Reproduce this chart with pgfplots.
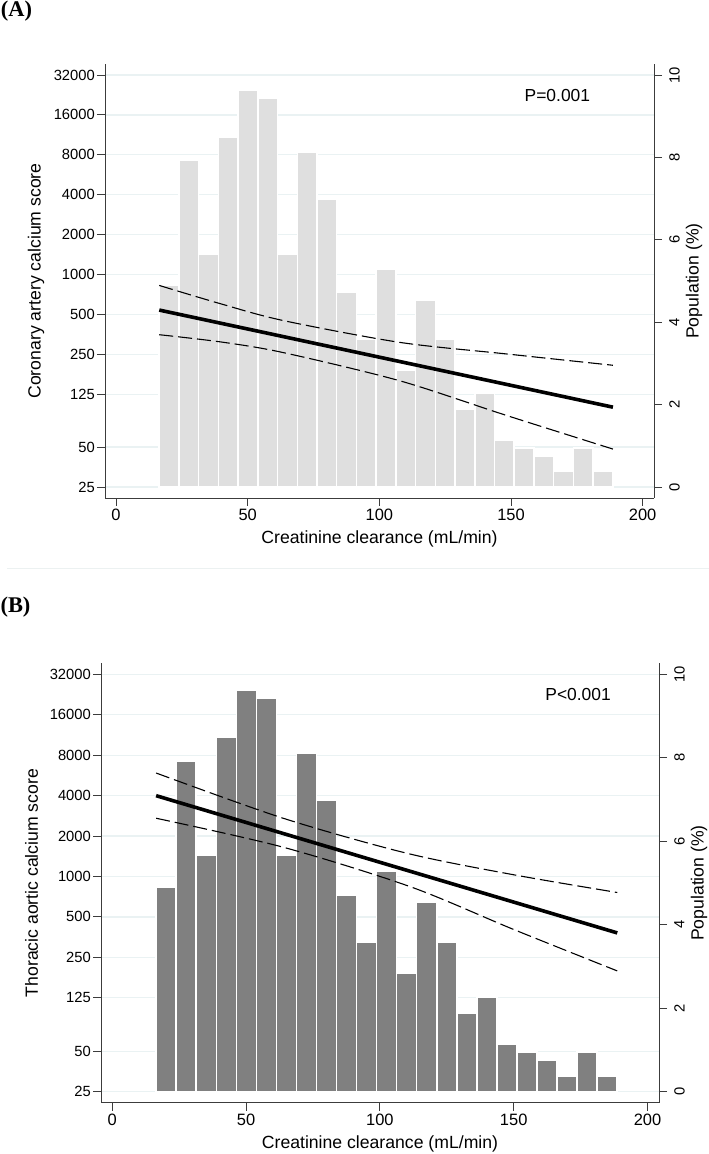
\documentclass[border=0pt]{standalone}
\usepackage{pgfplots}
\pgfplotsset{compat=1.18}
\usepackage{pgfplotstable}
\usepackage{fontspec}
\setmainfont{Liberation Sans}
\newfontfamily\timesfont{Liberation Serif}
\definecolor{gridc}{RGB}{234,242,243}
\definecolor{barA}{RGB}{223,223,223}
\definecolor{barB}{RGB}{128,128,128}
\definecolor{axc}{RGB}{60,60,60}
\definecolor{sepc}{RGB}{236,241,241}

% histogram: left bin edge, population (%)
\pgfplotstableread{
edge pct
16.40 4.906
23.89 7.925
31.38 5.660
38.87 8.491
46.36 9.623
53.85 9.434
61.34 5.660
68.83 8.113
76.32 6.981
83.81 4.717
91.30 3.585
98.79 5.283
106.28 2.830
113.77 4.528
121.26 3.585
128.75 1.887
136.24 2.264
143.73 1.132
151.22 0.943
158.71 0.755
166.20 0.377
173.69 0.943
181.18 0.377
188.67 0.377
}\histtab

\pgfplotsset{
  mycommon/.style={scale only axis, xmin=-4.2, xmax=204.3,
    tick align=outside, major tick length=8bp,
    tick style={axc, line width=0.9bp},
    axis line style={axc, line width=0.9bp},
    xticklabel style={font=\fontsize{16.5}{17}\selectfont},
    yticklabel style={font=\fontsize{14.8}{15}\selectfont, inner sep=2bp},
    label style={font=\fontsize{17.7}{18}\selectfont},
  },
  myleft/.style={mycommon,
    axis x line*=bottom, axis y line*=left,
    xtick={0,50,100,150,200}, xticklabels={0,50,100,150,200},
    ytick={25,50,125,250,500,1000,2000,4000,8000,16000,32000},
    yticklabels={25,50,125,250,500,1000,2000,4000,8000,16000,32000},
    yminorticks=false, xminorticks=false,
    ymajorgrids, grid style={draw=gridc, line width=1.2bp},
    xlabel={Creatinine clearance (mL/min)},
  },
  myright/.style={mycommon,
    axis y line*=right, axis x line=none,
    ytick={0,2,4,6,8,10}, yticklabels={0,2,4,6,8,10},
    yticklabel style={rotate=90, anchor=north},
    yticklabel shift=5bp,
    ylabel={Population (\%)},
  },
  myfit/.style={black, line width=3.6bp},
  myci/.style={black, line width=1.1bp, dash pattern=on 14bp off 5bp, smooth},
}

\begin{document}
\begin{tikzpicture}
\path[use as bounding box] (0,0) rectangle (709bp,-1154bp);

% ---------------- Panel A ----------------
\node[font=\timesfont\bfseries\fontsize{22.5}{23}\selectfont] at (16.5bp,-11bp) {(A)};
\begin{axis}[myleft, ymode=log, ymin=20.65, ymax=38740,
  width=549bp, height=434bp, at={(105bp,-498bp)}, anchor=south west,
  ylabel={Coronary artery calcium score},
  ylabel style={at={(axis description cs:-0.1257,0.5)}, anchor=center},
  xlabel style={at={(axis description cs:0.5,-0.0945)}, anchor=center}]
\end{axis}
\begin{axis}[myright, ymin=-0.267, ymax=10.267,
  width=549bp, height=434bp, at={(105bp,-498bp)}, anchor=south west,
  ylabel style={at={(axis description cs:1.073,0.5)}, anchor=center}]
\addplot[ybar interval, fill=barA, draw=white, line width=1.5bp] table[x=edge, y=pct] {\histtab};
\end{axis}
\begin{axis}[scale only axis, xmin=-4.2, xmax=204.3, ymode=log, ymin=20.65, ymax=38740, hide axis,
  width=549bp, height=434bp, at={(105bp,-498bp)}, anchor=south west]
\addplot[myfit] coordinates {(16.4,540) (188.7,100)};
\addplot[myci] coordinates {(16.4,828) (40,600) (63.5,450) (107.8,308) (148.3,252) (188.7,207)};
\addplot[myci] coordinates {(16.4,352) (40,310) (63.5,258) (107.8,158) (148.3,86.6) (188.7,48.3)};
\node[font=\fontsize{17.5}{18}\selectfont] at (axis description cs:0.824,0.927) {P=0.001};
\end{axis}

\draw[sepc, line width=1bp] (7bp,-568bp) -- (709bp,-568bp);

% ---------------- Panel B ----------------
\node[font=\timesfont\bfseries\fontsize{22.5}{23}\selectfont] at (15.5bp,-607bp) {(B)};
\begin{axis}[myleft, ymode=log, ymin=20.65, ymax=38740,
  width=558bp, height=439.4bp, at={(101bp,-1102.7bp)}, anchor=south west,
  ylabel={Thoracic aortic calcium score},
  ylabel style={at={(axis description cs:-0.1242,0.5)}, anchor=center},
  xlabel style={at={(axis description cs:0.5,-0.0933)}, anchor=center}]
\end{axis}
\begin{axis}[myright, ymin=-0.267, ymax=10.267,
  width=558bp, height=439.4bp, at={(101bp,-1102.7bp)}, anchor=south west,
  ylabel style={at={(axis description cs:1.072,0.5)}, anchor=center}]
\addplot[ybar interval, fill=barB, draw=white, line width=1.5bp] table[x=edge, y=pct] {\histtab};
\end{axis}
\begin{axis}[scale only axis, xmin=-4.2, xmax=204.3, ymode=log, ymin=20.65, ymax=38740, hide axis,
  width=558bp, height=439.4bp, at={(101bp,-1102.7bp)}, anchor=south west]
\addplot[myfit] coordinates {(16.4,4000) (188.7,380)};
\addplot[myci] coordinates {(16.4,5900) (64,2711) (110.2,1488) (150,1030) (188.7,760)};
\addplot[myci] coordinates {(16.4,2716) (64,1650) (111.4,839) (150,403) (188.7,198)};
\node[font=\fontsize{17.5}{18}\selectfont] at (axis description cs:0.855,0.928) {P<0.001};
\end{axis}
\end{tikzpicture}
\end{document}
